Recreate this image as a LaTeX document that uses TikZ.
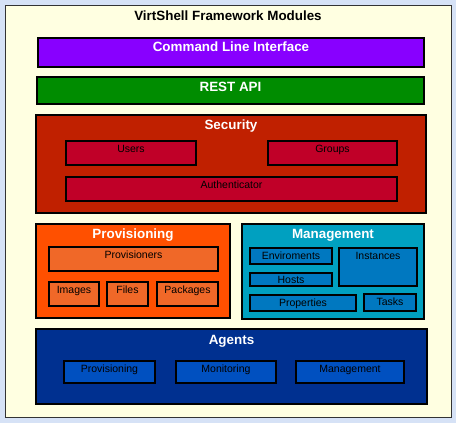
\documentclass[tikz,border=0pt]{standalone}
\usepackage{fontspec}
\setmainfont{Liberation Sans}
\usetikzlibrary{positioning}
\definecolor{bgblue}{RGB}{214,226,246}
\definecolor{cream}{RGB}{255,255,225}
\definecolor{clicol}{RGB}{136,0,255}
\definecolor{restcol}{RGB}{0,140,0}
\definecolor{seccol}{RGB}{192,32,0}
\definecolor{secin}{RGB}{192,0,40}
\definecolor{provcol}{RGB}{255,80,0}
\definecolor{provin}{RGB}{240,104,40}
\definecolor{mgmtcol}{RGB}{0,160,192}
\definecolor{mgmtin}{RGB}{0,120,192}
\definecolor{agentcol}{RGB}{0,48,144}
\definecolor{agentin}{RGB}{0,80,192}
\tikzset{
  box/.style={draw=black, line width=2pt, rectangle, inner sep=0pt, anchor=north west},
  modtext/.style={text=white, font=\fontsize{13.4}{14}\selectfont\bfseries, anchor=base, inner sep=0pt},
  intext/.style={text=black, font=\fontsize{10.5}{12}\selectfont, anchor=base, inner sep=0pt},
  titletext/.style={text=black, font=\fontsize{13.4}{14}\selectfont\bfseries, anchor=base, inner sep=0pt},
}
\newcommand{\mybox}[6]{% name, color, x1, y1, x2, y2
  \pgfmathsetmacro{\bw}{#5-#3-2}\pgfmathsetmacro{\bh}{#6-#4-2}%
  \node[box, fill=#2, minimum width=\bw pt, minimum height=\bh pt] (#1) at (#3+1,#4+1) {};}
\begin{document}
\begin{tikzpicture}[x=1pt,y=-1pt]
\useasboundingbox (0,0) rectangle (456,423);
\fill[bgblue] (0,0) rectangle (456,423);
\node[draw=black!80, line width=1.5pt, fill=cream, rectangle, inner sep=0pt, anchor=north west,
  minimum width=446pt, minimum height=412pt] (frame) at (4.75,4.75) {};
\node[titletext] (title) at (228,20) {VirtShell Framework Modules};
% CLI
\mybox{cli}{clicol}{36}{36}{424}{67}
\node[modtext] (clit) at ([yshift=-15pt]cli.north) {Command Line Interface};
% REST
\mybox{rest}{restcol}{35}{75}{424}{104}
\node[modtext] (restt) at ([yshift=-16pt]rest.north) {REST API};
% Security
\mybox{sec}{seccol}{34}{113}{426}{213}
\node[modtext] (sect) at ([yshift=-15pt]sec.north) {Security};
\mybox{users}{secin}{64}{139}{196}{165}
\node[intext] (userst) at ([yshift=-12pt]users.north) {Users};
\mybox{groups}{secin}{266}{139}{397}{165}
\node[intext] (groupst) at ([yshift=-12pt]groups.north) {Groups};
\mybox{auth}{secin}{64}{175}{397}{201}
\node[intext] (autht) at ([yshift=-12pt]auth.north) {Authenticator};
% Provisioning
\mybox{prov}{provcol}{34}{222}{230}{318}
\node[modtext] (provt) at ([yshift=-15pt]prov.north) {Provisioning};
\mybox{provs}{provin}{47}{245}{218}{271}
\node[intext] (provst) at ([yshift=-12pt]provs.north) {Provisioners};
\mybox{images}{provin}{47}{280}{99}{306}
\node[intext] (imagest) at ([yshift=-12pt]images.north) {Images};
\mybox{files}{provin}{105}{280}{148}{306}
\node[intext] (filest) at ([yshift=-12pt]files.north) {Files};
\mybox{packs}{provin}{155}{280}{218}{306}
\node[intext] (packst) at ([yshift=-12pt]packs.north) {Packages};
% Management
\mybox{mgmt}{mgmtcol}{240}{222}{424}{319}
\node[modtext] (mgmtt) at ([yshift=-15pt]mgmt.north) {Management};
\mybox{envs}{mgmtin}{248}{246}{332}{264}
\node[intext] (envst) at ([yshift=-12pt]envs.north) {Enviroments};
\mybox{inst}{mgmtin}{337}{246}{417}{286}
\node[intext] (instt) at ([yshift=-12pt]inst.north) {Instances};
\mybox{hosts}{mgmtin}{248}{271}{332}{286}
\node[intext] (hostst) at ([yshift=-11pt]hosts.north) {Hosts};
\mybox{props}{mgmtin}{248}{293}{356}{311}
\node[intext] (propst) at ([yshift=-12pt]props.north) {Properties};
\mybox{tasks}{mgmtin}{362}{292}{416}{311}
\node[intext] (taskst) at ([yshift=-12pt]tasks.north) {Tasks};
% Agents
\mybox{agents}{agentcol}{34}{327}{427}{404}
\node[modtext] (agentst) at ([yshift=-16pt]agents.north) {Agents};
\mybox{aprov}{agentin}{62}{359}{155}{383}
\node[intext] (aprovt) at ([yshift=-12pt]aprov.north) {Provisioning};
\mybox{amon}{agentin}{174}{359}{276}{383}
\node[intext] (amont) at ([yshift=-12pt]amon.north) {Monitoring};
\mybox{amgmt}{agentin}{294}{359}{404}{383}
\node[intext] (amgmtt) at ([yshift=-12pt]amgmt.north) {Management};
\end{tikzpicture}
\end{document}
